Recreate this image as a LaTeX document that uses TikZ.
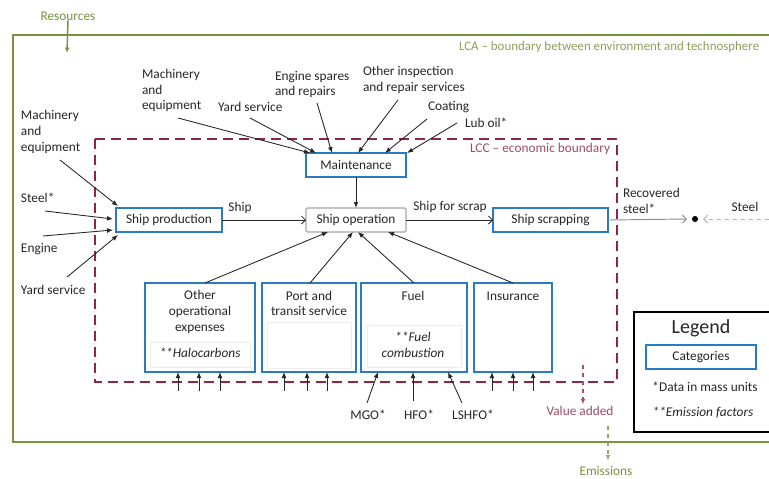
\documentclass[tikz,border=0pt]{standalone}
\usepackage{fontspec}
\setmainfont{Carlito}
\usetikzlibrary{arrows.meta}
\definecolor{lcagreen}{HTML}{77933C}
\definecolor{lcatext}{HTML}{8DA05C}
\definecolor{lccred}{HTML}{8E2446}
\definecolor{lcctext}{HTML}{9E4D66}
\definecolor{boxblue}{HTML}{2A7BC4}
\definecolor{txt}{HTML}{262626}
\begin{document}
\begin{tikzpicture}[x=0.75pt,y=-0.75pt,
  every node/.style={font=\fontsize{10}{11.7}\selectfont, text=txt, inner sep=0pt, outer sep=0pt},
  cat/.style={draw=boxblue, line width=1.6pt, fill=white},
  opbox/.style={draw=black!35, line width=0.9pt, fill=white, rounded corners=1pt},
  faint/.style={draw=black!7, line width=0.6pt},
  arr/.style={draw=txt, line width=0.65pt, -{Latex[length=4.5pt,width=3.6pt]}},
  barb/.style={draw=txt, line width=0.65pt, -{Straight Barb[length=3pt,width=6pt]}},
  lcc/.style={draw=lccred, line width=2.2pt, dash pattern=on 7.5pt off 4.5pt},
  lca/.style={draw=lcagreen, line width=1.6pt},
  lbl/.style={align=left, anchor=west},
]
\useasboundingbox (0,0) rectangle (769,479);

% boundaries
\draw[lca] (13,35) rectangle (780,442);
\draw[lcc] (95,139) rectangle (617,382);

\node[text=lcagreen] (res) at (68,16) {Resources};
\coordinate (resend) at (67,53);
\draw[draw=lcagreen, line width=1.1pt, -{Latex[length=4pt,width=3.5pt]}] (res.south) -- (resend);
\node[text=lcatext, anchor=west, font=\fontsize{9.7}{11.7}\selectfont] (lcalbl) at (459,47) {LCA -- boundary between environment and technosphere};
\node[text=lcctext, anchor=west] (lcclbl) at (470,149) {LCC -- economic boundary};

% main boxes
\node[cat, minimum width=75pt, minimum height=18pt] (maint) at (356,165) {Maintenance};
\node[cat, minimum width=79.5pt, minimum height=18pt] (prod) at (169,220) {Ship production};
\node[opbox, minimum width=75pt, minimum height=18pt] (op) at (356,220) {Ship operation};
\node[cat, minimum width=86.25pt, minimum height=18pt] (scrap) at (550.5,220) {Ship scrapping};

% bottom boxes
\node[cat, minimum width=82.5pt, minimum height=66.75pt] (oth) at (200,327.5) {};
\node[cat, minimum width=70.5pt, minimum height=66.75pt] (port) at (309,327.5) {};
\node[cat, minimum width=79.5pt, minimum height=66.75pt] (fuel) at (414,327.5) {};
\node[cat, minimum width=58.5pt, minimum height=66.75pt] (ins) at (513,327.5) {};
\draw[faint] (150,342) rectangle (250,367);
\draw[faint] (267,322) rectangle (351,368);
\draw[faint] (367,325) rectangle (461,367);

\node[align=center] (othtxt) at (200,312) {Other\\operational\\expenses};
\node[font=\fontsize{10}{11.7}\selectfont\itshape] (halo) at (200,353) {**Halocarbons};
\node[align=center] (porttxt) at (309,303.5) {Port and\\transit service};
\node (fueltxt) at (413,296) {Fuel};
\node[align=center, font=\fontsize{10}{11.7}\selectfont\itshape] (comb) at (413,345) {**Fuel\\combustion};
\node (instxt) at (513,296) {Insurance};

% links between main boxes
\draw[barb] (prod.east) -- (op.west);
\node (shiplbl) at (240,208) {Ship};
\draw[arr] (maint.south) -- (op.north);
\draw[barb] (op.east) -- (scrap.west);
\node (scraplbl) at (450,207) {Ship for scrap};

\draw[arr] ([shift={(5,0)}]oth.north) -- ([shift={(-28,0)}]op.south);
\draw[arr] ([shift={(1,0)}]port.north) -- ([shift={(-3,0)}]op.south);
\draw[arr] (fuel.north) -- ([shift={(2,0)}]op.south);
\draw[arr] (ins.north) -- ([shift={(32,0)}]op.south);

% inputs to ship production
\node[lbl] (pmach) at (21,132) {Machinery\\and\\equipment};
\node[lbl] (psteel) at (21,198) {Steel*};
\node[lbl] (peng) at (21,249) {Engine};
\node[lbl] (pyard) at (21,290) {Yard service};
\coordinate (pmachs) at (60,160);
\coordinate (psteels) at (45,211);
\coordinate (pengs) at (43,236);
\coordinate (pyards) at (67,277);
\draw[arr] (pmachs) -- ([shift={(2,-2)}]prod.north west);
\draw[arr] (psteels) -- ([shift={(-3,-1)}]prod.west);
\draw[arr] (pengs) -- ([shift={(-3,10)}]prod.west);
\draw[arr] (pyards) -- ([shift={(2,3)}]prod.south west);

% inputs to maintenance
\node[lbl] (mmach) at (142,90.5) {Machinery\\and\\equipment};
\node[lbl] (myard) at (218,107) {Yard service};
\node[lbl] (mspare) at (275,84.5) {Engine spares\\and repairs};
\node[lbl] (minsp) at (363,80) {Other inspection\\and repair services};
\node[lbl] (mcoat) at (428,107) {Coating};
\node[lbl] (mlub) at (465,123) {Lub oil*};
\coordinate (mmachs) at (178,118);
\coordinate (myards) at (250,118);
\coordinate (mspares) at (317,103);
\coordinate (minsps) at (398,100);
\coordinate (mcoats) at (427,119);
\coordinate (mlubs) at (457,123);
\draw[arr] (mmachs) -- ([shift={(4,0)}]maint.north west);
\draw[arr] (myards) -- ([shift={(10,0)}]maint.north west);
\draw[arr] (mspares) -- ([shift={(26,0)}]maint.north west);
\draw[arr] (minsps) -- ([shift={(2,0)}]maint.north);
\draw[arr] (mcoats) -- ([shift={(-21,0)}]maint.north east);
\draw[arr] (mlubs) -- ([shift={(1,0)}]maint.north east);

% bottom inputs
\foreach \n/\bx/\dx in {oa/oth/-22, ob/oth/-1, oc/oth/20, pa/port/-25, pb/port/-2, pc/port/18, ia/ins/-21, ib/ins/0, ic/ins/20}{
  \coordinate (\n) at ([shift={(\dx,19)}]\bx.south);
  \draw[arr] (\n) -- ([shift={(\dx,0)}]\bx.south);
}
\node (mgo) at (368,415) {MGO*};
\node (hfo) at (419,415) {HFO*};
\node (lshfo) at (473,415) {LSHFO*};
\coordinate (mgos) at (367,403);
\coordinate (hfos) at (413,401);
\coordinate (lshfos) at (462,403);
\draw[arr] (mgos) -- ([shift={(-36,0)}]fuel.south);
\draw[arr] (hfos) -- ([shift={(-1,0)}]fuel.south);
\draw[arr] (lshfos) -- ([shift={(34,0)}]fuel.south);

% recovered steel
\node[lbl] (recov) at (623,201) {Recovered\\steel*};
\node[circle, fill=black, minimum size=4.5pt] (dot) at (695,219) {};
\draw[draw=black!45, line width=0.7pt, -{Straight Barb[length=3pt,width=6pt]}] (scrap.east) -- ([shift={(-8,0)}]dot.center);
\node (steel) at (745,207) {Steel};
\coordinate (steelsrc) at (769,219);
\draw[draw=black!30, line width=0.7pt, dashed, -{Straight Barb[length=3pt,width=6pt]}] (steelsrc) -- ([shift={(8,0)}]dot.center);

% value added & emissions
\node[text=lcctext] (va) at (580,411) {Value added};
\coordinate (vas) at (583,365);
\draw[draw=lccred!80, line width=1pt, dashed, -{Latex[length=4pt,width=3.5pt]}] (vas) -- ([shift={(3,-2)}]va.north);
\node[text=lcagreen] (emis) at (606,471) {Emissions};
\coordinate (ems) at (608,426);
\draw[draw=lcagreen!80, line width=1pt, dashed, -{Latex[length=4pt,width=3.5pt]}] (ems) -- ([shift={(2,-6)}]emis.north);

% legend
\node[draw=black, line width=1.6pt, fill=white, minimum width=108pt, minimum height=90pt] (legend) at (706,372) {};
\node[font=\fontsize{15}{18}\selectfont] (legtitle) at (701,328) {Legend};
\node[cat, minimum width=82.5pt, minimum height=18pt] (legcat) at (701,357) {Categories};
\node (legmass) at (705,387) {*Data in mass units};
\node[font=\fontsize{10}{11.7}\selectfont\itshape] (legem) at (703,413) {**Emission factors};
\end{tikzpicture}
\end{document}
